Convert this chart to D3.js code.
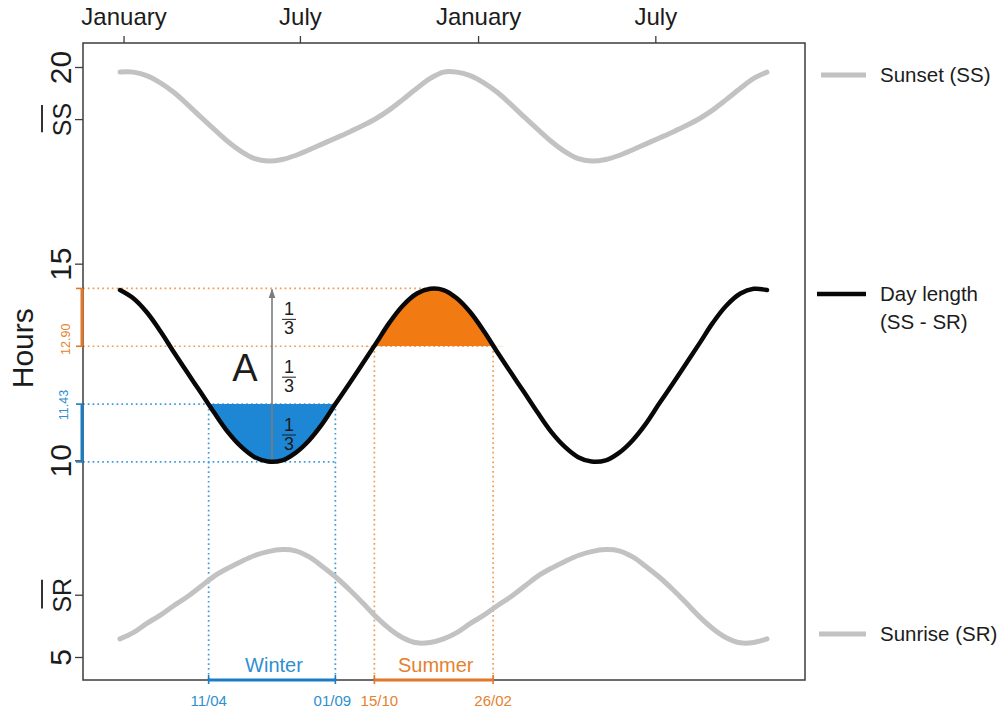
<!DOCTYPE html>
<html>
<head>
<meta charset="utf-8">
<script src="https://cdn.jsdelivr.net/npm/d3@7"></script>
<style>
  body { margin: 0; background: #fff; }
  svg { display: block; }
  text { font-family: "Liberation Sans", Arial, Helvetica, sans-serif; }
</style>
</head>
<body>
<svg id="chart" width="1006" height="710"></svg>
<script>
// ---- Data: one year, sampled twice a month (day 0 = 1 January), decimal hours ----
const dayOfYear = [0, 15, 30, 46, 61, 76, 91, 106, 122, 137, 152, 167,
                   183, 198, 213, 228, 243, 259, 274, 289, 304, 319, 335, 350];
const sunset    = [19.87, 19.87, 19.78, 19.59, 19.35, 19.05, 18.73, 18.42, 18.10, 17.85, 17.67, 17.61,
                   17.65, 17.75, 17.89, 18.04, 18.19, 18.35, 18.51, 18.69, 18.91, 19.17, 19.46, 19.71];
const sunrise   = [5.46, 5.62, 5.85, 6.07, 6.31, 6.53, 6.79, 7.05, 7.26, 7.43, 7.58, 7.68,
                   7.73, 7.70, 7.55, 7.31, 7.04, 6.71, 6.37, 6.02, 5.72, 5.49, 5.36, 5.37];
const dayLength = [14.33, 14.12, 13.77, 13.27, 12.74, 12.23, 11.73, 11.22, 10.71, 10.34, 10.08, 9.97,
                   10.00, 10.19, 10.50, 10.92, 11.43, 11.96, 12.47, 12.98, 13.50, 13.93, 14.24, 14.36];
const yearsShown = 2;

// Top axis
const monthTickDays   = [4, 203, 404, 604];
const monthTickLabels = ["January", "July", "January", "July"];

// Left axis
const hourTicks = [5, 10, 15, 20];

// Day-length range split into thirds (min, 1/3, 2/3, max)
const thirds = [9.96, 11.43, 12.90, 14.37];

// Seasons: dd/mm, the end may fall in the following year
const seasons = [
  { label: "Winter", start: "11/04", end: "01/09", endYear: 0, level: 1, below: true,  startNudge: 0, endNudge: -3 },
  { label: "Summer", start: "15/10", end: "26/02", endYear: 1, level: 2, below: false, startNudge: 5, endNudge: 0 }
];

// ---- Setup ----
const frame = { left: 83, right: 805, top: 43, bottom: 680 };
const svg = d3.select("#chart");
const defs = svg.append("defs");

const x = d3.scaleLinear().domain([0, 365 * yearsShown]).range([120, 767]);
const y = d3.scaleLinear().domain([5, 20]).range([657, 67]);

const col = {
  gray: "#c2c2c2", black: "#080808", axis: "#3c3c3c", text: "#1c1c1c",
  blueFill: "#1d87d6", blueLine: "#3d9ddc", blueText: "#2f8fd0", blueBar: "#1b7cc6",
  orangeFill: "#f27a12", orangeLine: "#ef9c52", orangeText: "#e4822e", orangeBar: "#e0772a",
  arrow: "#7c7c7c"
};

function repeatYears(values) {
  const pts = [];
  for (let yr = 0; yr < yearsShown; yr++) {
    dayOfYear.forEach((d, i) => pts.push({ d: d + 365 * yr, v: values[i] }));
  }
  pts.push({ d: 365 * yearsShown, v: values[0] });
  return pts;
}
const ssPts = repeatYears(sunset);
const srPts = repeatYears(sunrise);
const dlPts = repeatYears(dayLength);

const curve = d3.curveCatmullRom.alpha(0.5);
const line = d3.line().x(p => x(p.d)).y(p => y(p.v)).curve(curve);

const parseDM = d3.utcParse("%d/%m");
const doy = s => { const t = parseDM(s); return d3.utcDay.count(d3.utcYear(t), t); };
seasons.forEach(s => { s.s = doy(s.start); s.e = doy(s.end) + 365 * s.endYear; });
const winter = seasons[0], summer = seasons[1];
const winterMid = (winter.s + winter.e) / 2;
const summerMid = (summer.s + summer.e) / 2;

// ---- Dotted guide lines ----
const guides = svg.append("g").attr("fill", "none").attr("stroke-width", 1.7)
  .attr("stroke-dasharray", "1.7,3.1");
function hGuide(v, xEnd, c) {
  guides.append("line").attr("x1", frame.left).attr("x2", xEnd)
    .attr("y1", y(v)).attr("y2", y(v)).attr("stroke", c);
}
function vGuide(d, v, c) {
  guides.append("line").attr("x1", x(d)).attr("x2", x(d))
    .attr("y1", y(v)).attr("y2", frame.bottom).attr("stroke", c);
}
hGuide(thirds[3], x(summerMid), col.orangeLine);
hGuide(thirds[2], x(summer.e), col.orangeLine);
hGuide(thirds[1], x(winter.e), col.blueLine);
hGuide(thirds[0], x(winter.e), col.blueLine);
vGuide(winter.s, thirds[1], col.blueLine);
vGuide(winter.e, thirds[1], col.blueLine);
vGuide(summer.s, thirds[2], col.orangeLine);
vGuide(summer.e, thirds[2], col.orangeLine);

// ---- Season fills between the day-length curve and the third levels ----
seasons.forEach((s, i) => {
  const lvl = thirds[s.level];
  const id = "season-clip-" + i;
  defs.append("clipPath").attr("id", id).append("rect")
    .attr("x", x(s.s) - 10).attr("width", x(s.e) - x(s.s) + 20)
    .attr("y", s.below ? y(lvl) : frame.top)
    .attr("height", s.below ? frame.bottom - y(lvl) : y(lvl) - frame.top);
  svg.append("path").datum(dlPts)
    .attr("clip-path", `url(#${id})`)
    .attr("fill", s.below ? col.blueFill : col.orangeFill)
    .attr("d", d3.area().x(p => x(p.d)).y0(y(lvl)).y1(p => y(p.v)).curve(curve));
});

// ---- Amplitude arrow with thirds ----
defs.append("marker").attr("id", "arrowhead").attr("viewBox", "0 0 10 10")
  .attr("refX", 9).attr("refY", 5).attr("markerWidth", 6).attr("markerHeight", 6)
  .attr("orient", "auto-start-reverse")
  .append("path").attr("d", "M0,1.5 L10,5 L0,8.5 Z").attr("fill", col.arrow);

const ax = x(winterMid);
svg.append("line").attr("x1", ax).attr("x2", ax)
  .attr("y1", y(thirds[0])).attr("y2", y(thirds[3]) + 1)
  .attr("stroke", col.arrow).attr("stroke-width", 1.6)
  .attr("marker-end", "url(#arrowhead)");

const frac = svg.append("g").attr("fill", col.text);
for (let k = 0; k < 3; k++) {
  const cy = y((thirds[k] + thirds[k + 1]) / 2);
  const fx = ax + 17;
  const g = frac.append("g");
  g.append("text").attr("x", fx).attr("y", cy - 2).attr("text-anchor", "middle")
    .attr("font-size", 18).text("1");
  g.append("line").attr("x1", fx - 7).attr("x2", fx + 7).attr("y1", cy + 2).attr("y2", cy + 2)
    .attr("stroke", col.text).attr("stroke-width", 1);
  g.append("text").attr("x", fx).attr("y", cy + 17).attr("text-anchor", "middle")
    .attr("font-size", 18).text("3");
}
svg.append("text").attr("x", ax - 27).attr("y", y((thirds[0] + thirds[3]) / 2) + 6)
  .attr("text-anchor", "middle").attr("font-size", 38).attr("fill", col.text).text("A");

// ---- Curves ----
svg.append("path").datum(ssPts).attr("d", line).attr("fill", "none")
  .attr("stroke", col.gray).attr("stroke-width", 5).attr("stroke-linecap", "round");
svg.append("path").datum(srPts).attr("d", line).attr("fill", "none")
  .attr("stroke", col.gray).attr("stroke-width", 5).attr("stroke-linecap", "round");
svg.append("path").datum(dlPts).attr("d", line).attr("fill", "none")
  .attr("stroke", col.black).attr("stroke-width", 4.5).attr("stroke-linecap", "round");

// ---- Frame ----
svg.append("rect").attr("x", frame.left).attr("y", frame.top)
  .attr("width", frame.right - frame.left).attr("height", frame.bottom - frame.top)
  .attr("fill", "none").attr("stroke", col.axis).attr("stroke-width", 1.5);

// ---- Top axis (months) ----
const topAxis = d3.axisTop(x).tickValues(monthTickDays)
  .tickFormat((d, i) => monthTickLabels[i]).tickSizeInner(7).tickSizeOuter(0).tickPadding(11);
const gTop = svg.append("g").attr("transform", `translate(0,${frame.top})`).call(topAxis);
gTop.select(".domain").remove();
gTop.selectAll(".tick line").attr("stroke", col.axis).attr("stroke-width", 1.3);
gTop.selectAll(".tick text").attr("font-size", 24).attr("fill", col.text)
  .style("font-family", '"Liberation Sans", Arial, sans-serif');

// ---- Left axis (hours, mean sunrise / sunset) ----
const ssMean = d3.mean(sunset), srMean = d3.mean(sunrise);
const leftVals = [...hourTicks, srMean, ssMean];
const leftLabel = v => v === ssMean ? "SS" : v === srMean ? "SR" : String(v);
const leftAxis = d3.axisLeft(y).tickValues(leftVals).tickFormat(leftLabel)
  .tickSizeInner(8).tickSizeOuter(0);
const gLeft = svg.append("g").attr("transform", `translate(${frame.left},0)`).call(leftAxis);
gLeft.select(".domain").remove();
gLeft.selectAll(".tick line").attr("stroke", col.axis).attr("stroke-width", 1.3);
gLeft.selectAll(".tick text")
  .attr("x", null).attr("dy", null).attr("y", null)
  .attr("text-anchor", "middle")
  .attr("transform", "translate(-12,0) rotate(-90)")
  .attr("fill", col.text)
  .style("font-family", '"Liberation Sans", Arial, sans-serif')
  .attr("font-size", d => (d === ssMean || d === srMean) ? 25 : 30);
// overline on the mean labels
gLeft.selectAll(".tick").filter(d => d === ssMean || d === srMean).each(function () {
  const t = d3.select(this).select("text");
  const len = t.node().getComputedTextLength();
  d3.select(this).append("line")
    .attr("x1", -41).attr("x2", -41)
    .attr("y1", -len / 2 + 2).attr("y2", len / 2 - 4)
    .attr("stroke", col.text).attr("stroke-width", 1.8);
});

svg.append("text").attr("transform", `translate(33,${(y(thirds[1]) + y(thirds[3])) / 2 + 2}) rotate(-90)`)
  .attr("text-anchor", "middle").attr("font-size", 30).attr("fill", col.text).text("Hours");

// ---- Thirds brackets on the hour axis ----
function axisBracket(v0, v1, c) {
  const g = svg.append("g").attr("stroke", c).attr("fill", "none");
  g.append("line").attr("x1", frame.left - 1).attr("x2", frame.left - 1)
    .attr("y1", y(v0)).attr("y2", y(v1)).attr("stroke-width", 3);
  [v0, v1].forEach(v => g.append("line").attr("x1", frame.left - 7).attr("x2", frame.left)
    .attr("y1", y(v)).attr("y2", y(v)).attr("stroke-width", 1.6));
}
axisBracket(thirds[3], thirds[2], col.orangeBar);
axisBracket(thirds[1], thirds[0], col.blueBar);

function levelLabel(v, c, bx, dy) {
  svg.append("text").attr("transform", `translate(${bx},${y(v) + dy}) rotate(-90)`)
    .attr("text-anchor", "middle").attr("font-size", 12.5).attr("fill", c).text(v.toFixed(2));
}
levelLabel(thirds[2], col.orangeText, 70, -7);
levelLabel(thirds[1], col.blueText, 68, 1);

// ---- Season brackets along the bottom ----
seasons.forEach(s => {
  const c = s.below ? col.blueBar : col.orangeBar;
  const tc = s.below ? col.blueText : col.orangeText;
  const g = svg.append("g");
  g.append("line").attr("x1", x(s.s)).attr("x2", x(s.e))
    .attr("y1", frame.bottom).attr("y2", frame.bottom)
    .attr("stroke", c).attr("stroke-width", 3);
  [s.s, s.e].forEach(d => g.append("line").attr("x1", x(d)).attr("x2", x(d))
    .attr("y1", frame.bottom - 5).attr("y2", frame.bottom + 4)
    .attr("stroke", c).attr("stroke-width", 1.6));
  g.append("text").attr("x", (x(s.s) + x(s.e)) / 2 + 2).attr("y", frame.bottom - 8)
    .attr("text-anchor", "middle").attr("font-size", 20).attr("fill", tc).text(s.label);
  g.append("text").attr("x", x(s.s) + s.startNudge).attr("y", frame.bottom + 26)
    .attr("text-anchor", "middle").attr("font-size", 15).attr("fill", tc).text(s.start);
  g.append("text").attr("x", x(s.e) + s.endNudge).attr("y", frame.bottom + 26)
    .attr("text-anchor", "middle").attr("font-size", 15).attr("fill", tc).text(s.end);
});

// ---- Legend ----
const legend = [
  { lines: ["Sunset (SS)"], y: 75, color: col.gray, x1: 821, width: 5 },
  { lines: ["Day length", "(SS - SR)"], y: 294, color: col.black, x1: 817, width: 4.5 },
  { lines: ["Sunrise (SR)"], y: 634, color: col.gray, x1: 819, width: 5 }
];
legend.forEach(item => {
  svg.append("line").attr("x1", item.x1).attr("x2", 866).attr("y1", item.y).attr("y2", item.y)
    .attr("stroke", item.color).attr("stroke-width", item.width);
  item.lines.forEach((t, i) => {
    svg.append("text").attr("x", 880).attr("y", item.y + 7 + i * 28)
      .attr("font-size", 20.5).attr("fill", col.text).text(t);
  });
});
</script>
</body>
</html>
